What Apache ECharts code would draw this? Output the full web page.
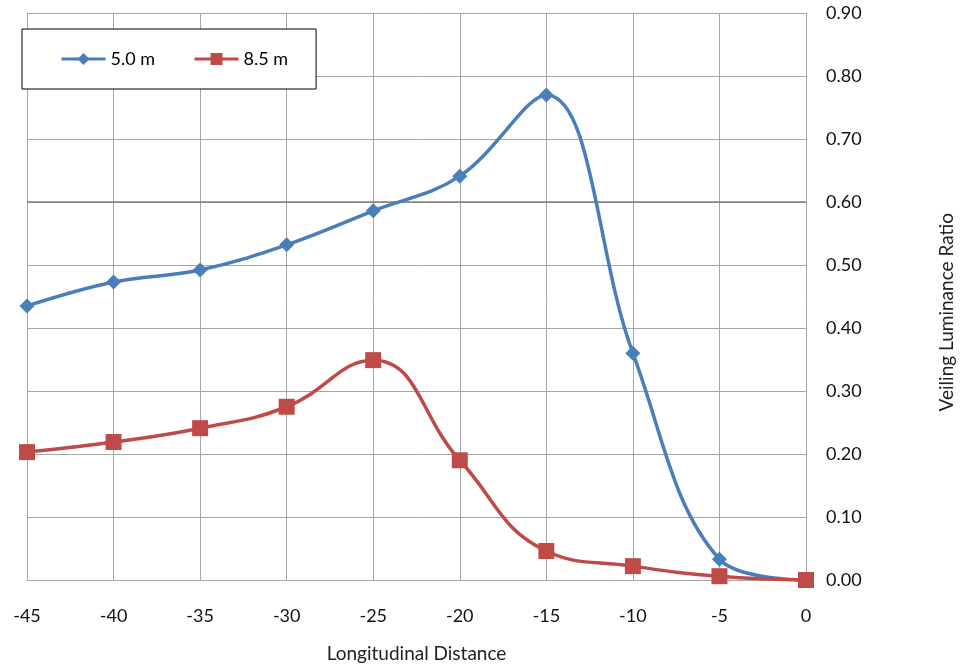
<!DOCTYPE html>
<html>
<head>
<meta charset="utf-8">
<script src="https://cdn.jsdelivr.net/npm/echarts@6/dist/echarts.min.js"></script>
<style>
  html, body { margin: 0; padding: 0; background: #fff; }
  #chart { width: 961px; height: 665px; }
</style>
</head>
<body>
<div id="chart"></div>
<script>
// Longitudinal distance (m) and veiling luminance ratio for two mounting heights
const distances = [-45, -40, -35, -30, -25, -20, -15, -10, -5, 0];
const ratio5m  = [0.435, 0.473, 0.492, 0.532, 0.586, 0.641, 0.770, 0.360, 0.033, 0.000];
const ratio85m = [0.203, 0.219, 0.241, 0.275, 0.349, 0.190, 0.046, 0.022, 0.006, 0.000];
const seriesNames = ['5.0 m', '8.5 m'];

const FONT = 'Lato, "Liberation Sans", sans-serif';
const GRID = '#a6a6a6';

const pair = (xs, ys) => xs.map((x, i) => [x, ys[i]]);

const chart = echarts.init(document.getElementById('chart'), null, { renderer: 'canvas' });

chart.setOption({
  animation: false,
  backgroundColor: '#ffffff',
  textStyle: { fontFamily: FONT },
  grid: {
    left: 27, right: 155, top: 13, bottom: 85,
    containLabel: false,
    outerBoundsMode: 'none'
  },
  legend: {
    left: 22,
    top: 29,
    padding: [21, 28, 21, 38],
    itemGap: 38,
    itemWidth: 44,
    itemHeight: 15,
    backgroundColor: '#ffffff',
    borderColor: '#000000',
    borderWidth: 1,
    lineStyle: { width: 3 },
    textStyle: { fontFamily: FONT, fontSize: 18, color: '#000' },
    data: seriesNames
  },
  xAxis: {
    type: 'value',
    min: -45,
    max: 0,
    interval: 5,
    name: 'Longitudinal Distance',
    nameLocation: 'middle',
    nameGap: 64,
    nameTextStyle: { fontFamily: FONT, fontSize: 19, color: '#222' },
    axisLine: { show: true, lineStyle: { color: GRID, width: 1 } },
    axisTick: { show: false },
    axisLabel: { margin: 27, fontFamily: FONT, fontSize: 18, color: '#111' },
    splitLine: { show: true, lineStyle: { color: GRID, width: 1 } }
  },
  yAxis: {
    type: 'value',
    position: 'right',
    min: 0,
    max: 0.9,
    interval: 0.1,
    axisLine: { show: false },
    axisTick: { show: false },
    axisLabel: {
      margin: 20,
      fontFamily: FONT,
      fontSize: 18,
      color: '#111',
      formatter: v => v.toFixed(2)
    },
    splitLine: { show: true, lineStyle: { color: GRID, width: 1 } }
  },
  graphic: [{
    type: 'text',
    left: 937,
    top: 213,
    rotation: Math.PI / 2,
    style: {
      text: 'Veiling Luminance Ratio',
      fontFamily: FONT,
      fontSize: 19,
      fill: '#222'
    },
    originX: 0,
    originY: 0
  }],
  series: [
    {
      name: seriesNames[0],
      type: 'line',
      data: pair(distances, ratio5m),
      smooth: 0.38,
      symbol: 'diamond',
      symbolSize: 15,
      showAllSymbol: true,
      lineStyle: { color: '#4a7ebb', width: 3.5 },
      itemStyle: { color: '#4a7ebb' },
      z: 3,
      markLine: {
        silent: true,
        symbol: 'none',
        label: { show: false },
        lineStyle: { color: '#7f7f7f', width: 1.5, type: 'solid' },
        data: [{ yAxis: 0.6 }],
        z: 1
      }
    },
    {
      name: seriesNames[1],
      type: 'line',
      data: pair(distances, ratio85m),
      smooth: 0.45,
      symbol: 'rect',
      symbolSize: 16,
      showAllSymbol: true,
      lineStyle: { color: '#be4b48', width: 3.5 },
      itemStyle: { color: '#be4b48' },
      z: 4
    }
  ]
});
</script>
</body>
</html>
